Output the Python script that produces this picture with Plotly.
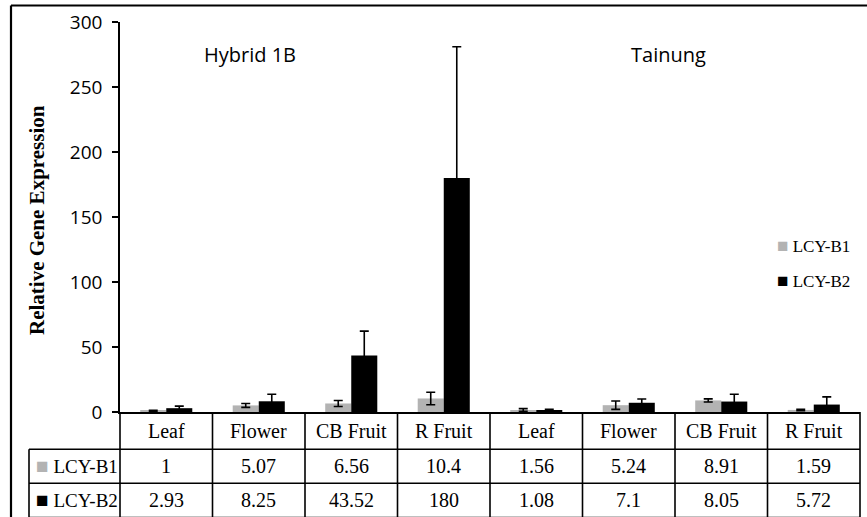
import plotly.graph_objects as go

# ---------------- data ----------------
categories = ["Leaf", "Flower", "CB Fruit", "R Fruit", "Leaf", "Flower", "CB Fruit", "R Fruit"]
cultivars = ["Hybrid 1B", "Tainung"]
series_names = ["LCY-B1", "LCY-B2"]
lcy_b1 = [1, 5.07, 6.56, 10.4, 1.56, 5.24, 8.91, 1.59]
lcy_b2 = [2.93, 8.25, 43.52, 180, 1.08, 7.1, 8.05, 5.72]
err_b1 = [0.4, 1.5, 2.3, 4.8, 1.0, 3.2, 1.2, 0.5]
err_b2 = [1.6, 5.4, 18.7, 101, 1.0, 2.9, 5.6, 5.9]
y_ticks = [0, 50, 100, 150, 200, 250, 300]

colors = ["#b3b3b3", "#000000"]

# ---------------- geometry helpers (pixels -> paper) ----------------
W, H = 867, 517
L, R, T, B = 120, 860, 22, 412


def px_x(p):
    return (p - L) / (R - L)


def px_y(p):
    return (B - p) / (B - T)


x = list(range(len(categories)))
fig = go.Figure()
for name, vals, errs, col in zip(series_names, [lcy_b1, lcy_b2], [err_b1, err_b2], colors):
    fig.add_trace(go.Bar(
        x=x, y=vals, name=name, marker=dict(color=col, line=dict(width=0)),
        error_y=dict(type="data", array=errs, visible=True, color="black", thickness=1.6, width=4.5),
        showlegend=False,
    ))

serif = "Liberation Serif"
sans = "Open Sans"

shapes = []
annotations = []
ncol = len(categories)


def ann(x, y, text, size, family, xanchor="center", **kw):
    annotations.append(dict(xref="paper", yref="paper", x=x, y=y, text=text, xanchor=xanchor,
                            yanchor="middle", showarrow=False,
                            font=dict(family=family, size=size, color="black"), **kw))


# outer frame
shapes.append(dict(type="line", xref="paper", yref="paper", x0=px_x(11), x1=px_x(870), y0=px_y(5.5), y1=px_y(5.5),
                   line=dict(color="black", width=2.2)))
shapes.append(dict(type="line", xref="paper", yref="paper", x0=px_x(11), x1=px_x(11), y0=px_y(5.5), y1=px_y(520),
                   line=dict(color="black", width=2.2)))

# table geometry
row_lines = [449.3, 483.3, 517.5]
for k in range(ncol + 1):
    shapes.append(dict(type="line", xref="paper", yref="paper", x0=k / ncol, x1=k / ncol,
                       y0=0, y1=px_y(520), line=dict(color="black", width=1.6)))
shapes.append(dict(type="line", xref="paper", yref="paper", x0=px_x(29), x1=px_x(29),
                   y0=px_y(row_lines[0]), y1=px_y(520), line=dict(color="black", width=1.6)))
for r in row_lines:
    shapes.append(dict(type="line", xref="paper", yref="paper", x0=px_x(29), x1=1,
                       y0=px_y(r), y1=px_y(r), line=dict(color="black", width=1.6)))

header_y = px_y((B + row_lines[0]) / 2)
row_ys = [px_y((row_lines[0] + row_lines[1]) / 2), px_y((row_lines[1] + row_lines[2]) / 2)]
for k, c in enumerate(categories):
    ann((k + 0.5) / ncol, header_y, c, 20, serif)
for vals, ry in zip([lcy_b1, lcy_b2], row_ys):
    for k, v in enumerate(vals):
        ann((k + 0.5) / ncol, ry, f"{v:g}", 20, serif)
for name, col, ry in zip(series_names, colors, row_ys):
    ann(px_x(34), ry, f'<span style="color:{col};font-size:21px">■</span> {name}', 19, serif, xanchor="left")

# right-hand legend
for name, col, cy in zip(series_names, colors, [246, 280]):
    ann(px_x(775), px_y(cy), f'<span style="color:{col};font-size:19px">■</span> {name}', 17, serif, xanchor="left")

# cultivar titles
for name, cx in zip(cultivars, [249.5, 668]):
    ann(px_x(cx), px_y(54), name, 20, sans)

# y-axis title
ann(px_x(37), px_y(220), "<b>Relative Gene Expression</b>", 21, serif, textangle=-90)

fig.update_layout(
    width=W, height=H,
    margin=dict(l=L, r=W - R, t=T, b=H - B, pad=0),
    paper_bgcolor="white", plot_bgcolor="white",
    barmode="group", bargap=0.437, bargroupgap=0,
    shapes=shapes, annotations=annotations,
    showlegend=False,
)
fig.update_xaxes(range=[-0.5, ncol - 0.5], showticklabels=False, ticks="", showgrid=False, zeroline=False,
                 showline=True, linecolor="black", linewidth=1.6, fixedrange=True)
fig.update_yaxes(range=[0, 300], tickvals=y_ticks, ticks="outside", ticklen=6, tickwidth=1.6, tickcolor="black",
                 showgrid=False, zeroline=False, showline=True, linecolor="black", linewidth=1.6,
                 tickfont=dict(family=sans, size=19, color="black"), ticklabelstandoff=6)

fig.write_html("out.html", config={"displayModeBar": False}, post_script="document.body.style.margin='0';")
